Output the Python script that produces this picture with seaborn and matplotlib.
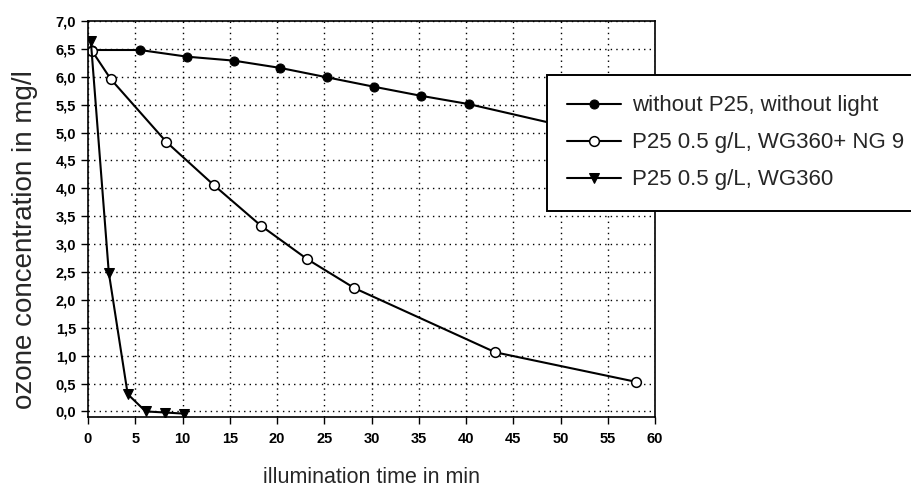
import matplotlib
matplotlib.use("Agg")
import matplotlib.pyplot as plt
import seaborn as sns
import numpy as np
from matplotlib.ticker import MultipleLocator, FuncFormatter

# Data
t_dark = [0.4, 5.5, 10.5, 15.4, 20.3, 25.3, 30.3, 35.2, 40.3, 50.3]
c_dark = [6.48, 6.48, 6.36, 6.29, 6.16, 5.99, 5.82, 5.66, 5.51, 5.12]

t_ng9 = [0.4, 2.4, 8.3, 13.3, 18.3, 23.2, 28.2, 43.1, 58.0]
c_ng9 = [6.47, 5.96, 4.83, 4.06, 3.33, 2.73, 2.21, 1.06, 0.53]

t_wg = [0.3, 2.2, 4.2, 6.1, 8.2, 10.2]
c_wg = [6.64, 2.49, 0.31, 0.0, -0.02, -0.04]

labels = ["without P25, without light", "P25 0.5 g/L, WG360+ NG 9", "P25 0.5 g/L, WG360"]

sns.set_style("ticks")
plt.rcParams["font.family"] = ["Liberation Sans", "DejaVu Sans"]

fig = plt.figure(figsize=(9.11, 4.90), dpi=100)
ax = fig.add_axes([88/911, 1-417/490, (655-88)/911, (417-21)/490])

lw = 1.5
sns.lineplot(x=t_dark, y=c_dark, ax=ax, color="black", lw=lw, marker="o",
             markersize=6.5, markerfacecolor="black", markeredgecolor="black",
             label=labels[0], sort=False)
sns.lineplot(x=t_ng9, y=c_ng9, ax=ax, color="black", lw=lw, marker="o",
             markersize=7, markerfacecolor="white", markeredgecolor="black",
             markeredgewidth=1.1, label=labels[1], sort=False)
sns.lineplot(x=t_wg, y=c_wg, ax=ax, color="black", lw=lw, marker="v",
             markersize=6.5, markerfacecolor="black", markeredgecolor="black",
             label=labels[2], sort=False)

ax.set_xlim(0, 60)
ax.set_ylim(-0.1, 7.0)
ax.xaxis.set_major_locator(MultipleLocator(5))
ax.set_yticks(np.arange(0, 7.01, 0.5))
ax.yaxis.set_major_formatter(FuncFormatter(lambda v, p: f"{v:.1f}".replace(".", ",").replace("-0,0", "0,0")))
ax.grid(True, color="black", linestyle=(0, (1, 3)), lw=1.0)
for s in ax.spines.values():
    s.set_color("black")
    s.set_linewidth(1.2)
    s.set_visible(True)
ax.tick_params(axis="both", direction="out", length=5, width=1, colors="black",
               labelsize=10.5)
ax.tick_params(axis="x", pad=6)
for lab in ax.get_xticklabels() + ax.get_yticklabels():
    lab.set_fontweight("bold")

ax.set_xlabel("illumination time in min", fontsize=15.5, labelpad=15)
ax.set_ylabel("ozone concentration in mg/l", fontsize=20, va="center")
ax.yaxis.set_label_coords((25-88)/567, (417-240)/396)

leg = ax.legend(loc="upper left",
                bbox_to_anchor=(547/911, (490-206)/490, (925-547)/911, (206-75)/490),
                bbox_transform=fig.transFigure, mode="expand",
                fontsize=16, frameon=True, fancybox=False, framealpha=1,
                edgecolor="black", handlelength=2.4, labelspacing=0.72,
                borderpad=0.92, handletextpad=0.5, borderaxespad=0)
leg.get_frame().set_linewidth(1.4)

fig.savefig("out.png", dpi=100)
